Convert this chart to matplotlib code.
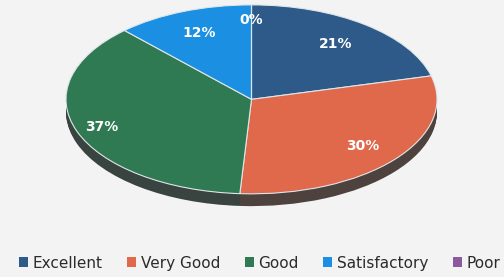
import numpy as np
import matplotlib.pyplot as plt
from matplotlib.patches import Patch
from matplotlib.colors import to_rgb

categories = ['Excellent', 'Very Good', 'Good', 'Satisfactory', 'Poor']
values = [21, 30, 37, 12, 0]
colors = ['#2d5a88', '#e0684b', '#2f7a53', '#1b8fe2', '#8b5a9e']

# per-slice radial position of the % labels (fraction of radius)
label_r = [0.74, 0.78, 0.86, 0.76, 0.84]

bg = '#f3f3f3'
fig = plt.figure(figsize=(5.04, 2.77), dpi=100, facecolor=bg)

# axes sized so that the unit circle becomes the flattened top ellipse
ax = fig.add_axes([66/504, (277-208)/277, 371/504, 205/277])
ax.set_facecolor(bg)

depth = 0.13
n_layers = 14
side_cols = []
for c in colors:
    r, g, b = to_rgb(c)
    side_cols.append((0.2 + 0.12*r, 0.21 + 0.12*g, 0.21 + 0.12*b))

for k in range(n_layers):
    off = -depth + depth * k / n_layers
    ax.pie(values, colors=side_cols, startangle=90, counterclock=False,
           center=(0, off), radius=1, wedgeprops=dict(linewidth=0))

ax.pie(values, colors=colors, startangle=90, counterclock=False,
       center=(0, 0), radius=1,
       wedgeprops=dict(linewidth=0.8, edgecolor='#dfe6ea'))

# percentage labels placed along each slice's mid angle
cum = np.cumsum([0] + values)
total = float(sum(values))
for i, v in enumerate(values):
    mid = (cum[i] + cum[i + 1]) / 2 / total * 2 * np.pi
    x = label_r[i] * np.sin(mid)
    y = label_r[i] * np.cos(mid)
    ax.text(x, y, f'{v}%', color='white', fontsize=10, fontweight='bold',
            ha='center', va='center')

ax.set_aspect('auto')
ax.set_xlim(-1, 1)
ax.set_ylim(-1 - depth - 0.02, 1.02)
ax.axis('off')

handles = [Patch(facecolor=c, edgecolor='none') for c in colors]
fig.legend(handles, categories, loc='center left', bbox_to_anchor=(0.01, 0.05),
           ncol=5, frameon=False, fontsize=11, handlelength=0.6,
           handleheight=0.6, handletextpad=0.3, columnspacing=1.6,
           labelcolor='#2b2b2b')

fig.savefig('out.png', dpi=100, facecolor=bg)
